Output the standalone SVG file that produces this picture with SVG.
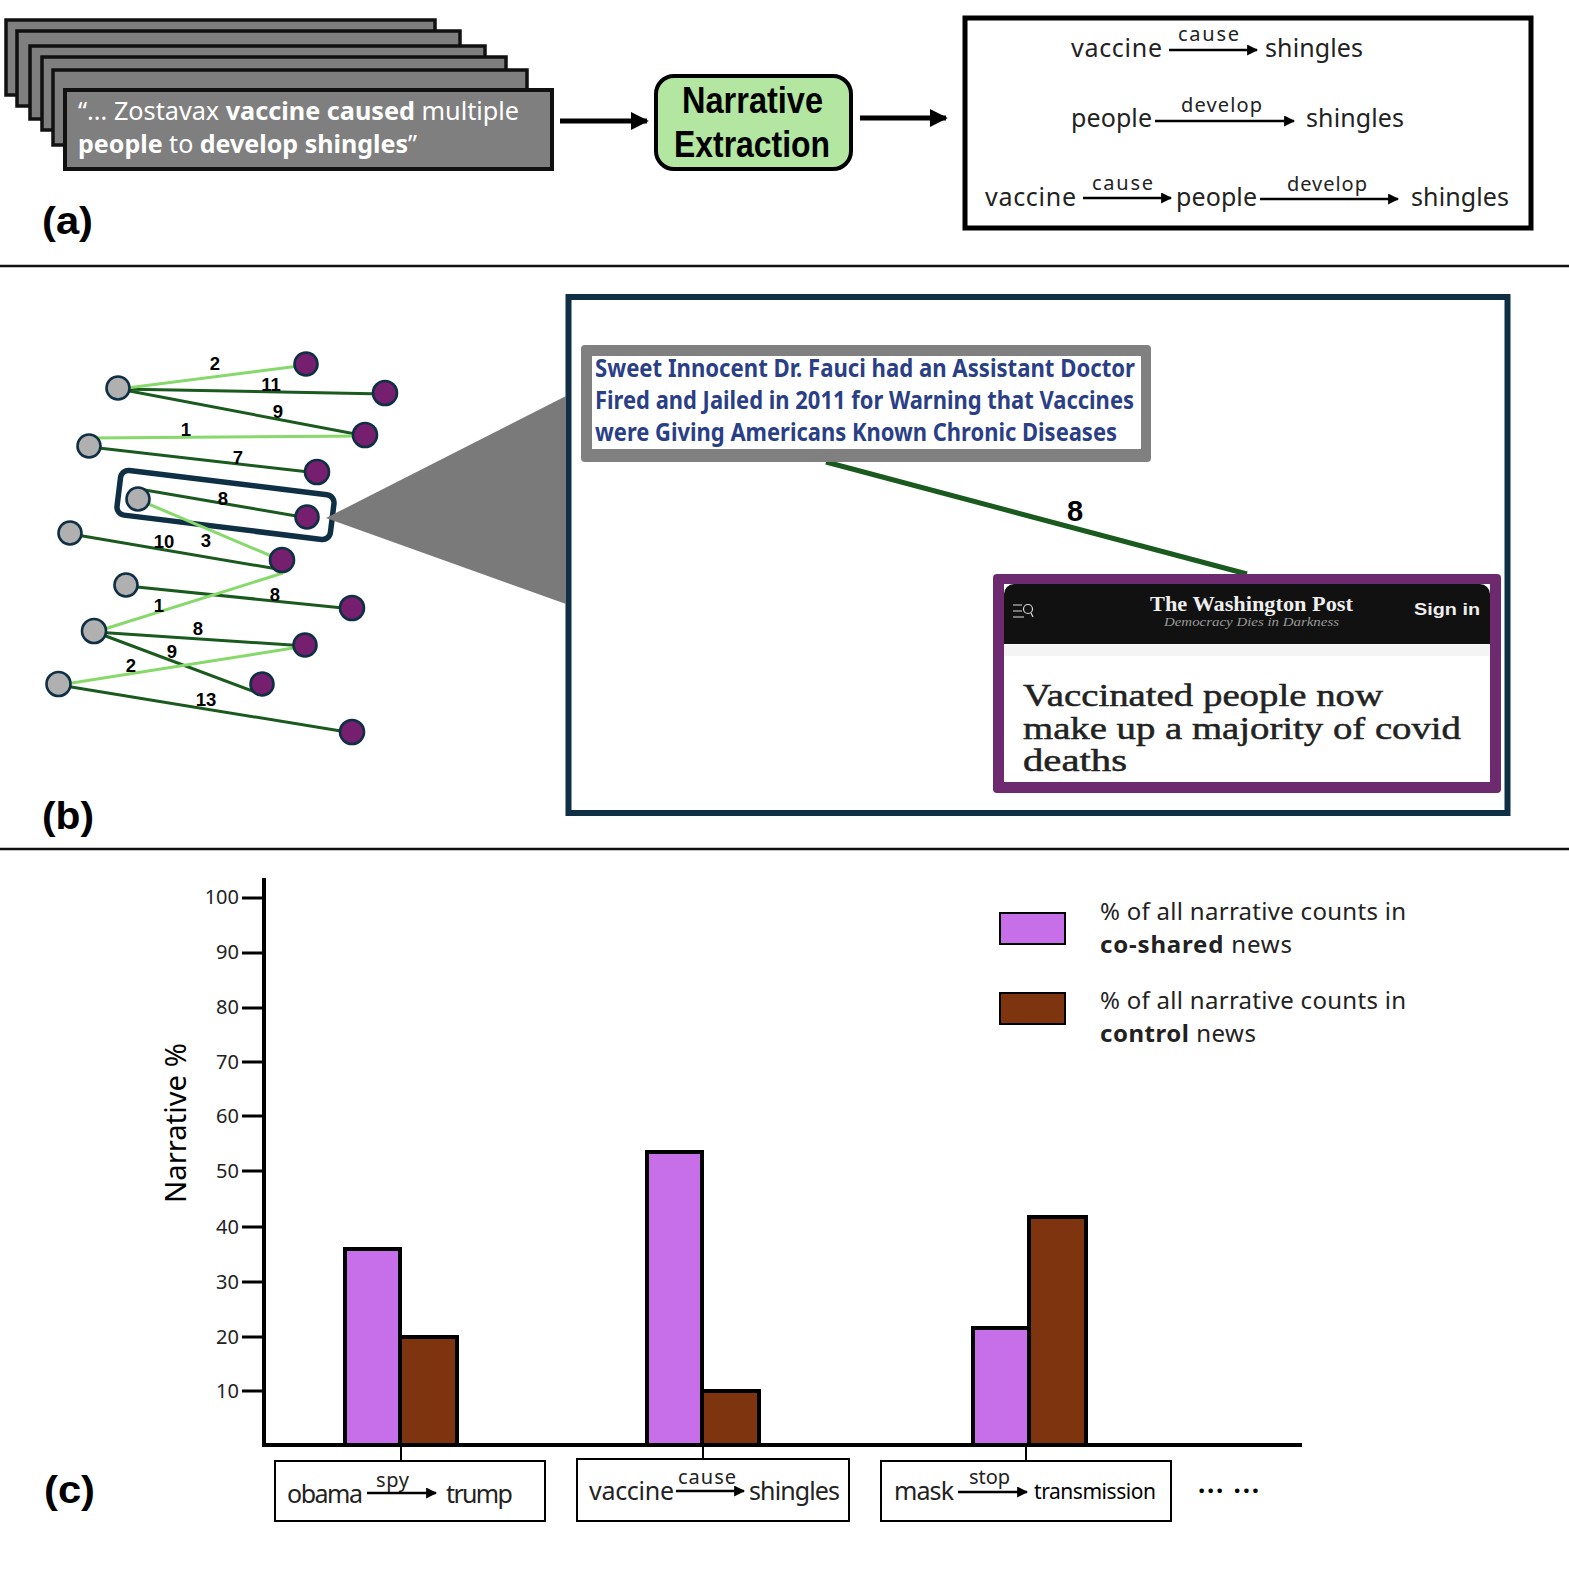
<svg xmlns="http://www.w3.org/2000/svg" width="1569" height="1569" viewBox="0 0 1569 1569">
<defs>
<style>
text{font-family:"Noto Sans","Liberation Sans",sans-serif;fill:#000}
.card{fill:#7f7f7f;stroke:#111;stroke-width:3.5}
.quote{font-size:25px;fill:#fff}
.b{font-weight:700}
.term{font-size:25px;fill:#222}
.rel{font-size:20px;fill:#222}
.panel{font-family:"Liberation Sans",Arial,sans-serif;font-size:39px;font-weight:700}
.title{font-family:"Liberation Sans",Arial,sans-serif;font-size:36px;font-weight:700}
.div{stroke:#111;stroke-width:2.5}
.arr{stroke:#000;stroke-width:2.5;fill:none;marker-end:url(#ah)}
.big{stroke:#000;stroke-width:5;fill:none;marker-end:url(#ahb)}
.dk{stroke:#1a5a1e;stroke-width:3;fill:none}
.lt{stroke:#86d96a;stroke-width:3;fill:none}
.g{fill:#b0b0b0;stroke:#0e2f44;stroke-width:2.6}
.p{fill:#751f6e;stroke:#0e2f44;stroke-width:2.6}
.el{font-family:"Liberation Sans",Arial,sans-serif;font-size:18.5px;font-weight:700;text-anchor:middle}
.fauci{font-size:25px;font-weight:700;fill:#2a3f86}
.hl{font-family:"Liberation Serif",serif;font-size:31px;font-weight:400;fill:#222;stroke:#222;stroke-width:.5}
.tick{stroke:#000;stroke-width:3}
.tl{font-size:20px;text-anchor:end;fill:#222}
.bar1{fill:#c76fe8;stroke:#000;stroke-width:4}
.bar2{fill:#7f3410;stroke:#000;stroke-width:4}
.leg{font-size:24px;fill:#222}
.lbox{fill:#fff;stroke:#000;stroke-width:2}
</style>
<marker id="ah" viewBox="0 0 10 10" refX="9" refY="5" markerWidth="4.4" markerHeight="4.4" orient="auto"><path d="M0 0L10 5L0 10z" fill="#000"/></marker>
<marker id="ahb" viewBox="0 0 10 10" refX="9" refY="5" markerWidth="3.6" markerHeight="3.6" orient="auto"><path d="M0 0L10 5L0 10z" fill="#000"/></marker>
</defs>
<rect width="1569" height="1569" fill="#fff"/>
<g transform="translate(1 1)">
<g id="documents">
<rect class="card" x="5" y="19" width="429" height="75"/>
<rect class="card" x="16" y="30" width="443" height="75"/>
<rect class="card" x="29" y="45" width="455" height="73"/>
<rect class="card" x="41" y="56" width="464" height="73"/>
<rect class="card" x="52" y="69" width="474" height="75"/>
<rect class="card" x="64" y="89" width="487" height="79" style="stroke-width:4"/>
<text class="quote" x="77" y="119" textLength="441" lengthAdjust="spacingAndGlyphs">“... Zostavax <tspan class="b">vaccine caused</tspan> multiple</text>
<text class="quote" x="77" y="152" textLength="339" lengthAdjust="spacingAndGlyphs"><tspan class="b">people</tspan> to <tspan class="b">develop shingles</tspan>”</text>
</g>
<g id="extraction">
<rect x="655" y="75" width="195" height="93" rx="18" fill="#b3e6a1" stroke="#000" stroke-width="4"/>
<text class="title" x="681" y="112" textLength="141" lengthAdjust="spacingAndGlyphs">Narrative</text>
<text class="title" x="673" y="156" textLength="156" lengthAdjust="spacingAndGlyphs">Extraction</text>
</g>
<g id="output">
<rect x="964" y="17" width="566" height="210" fill="#fff" stroke="#000" stroke-width="5"/>
<text class="term" x="1070" y="56" textLength="91">vaccine</text>
<text class="rel" x="1177" y="40" textLength="61">cause</text>
<text class="term" x="1264" y="56" textLength="98">shingles</text>
<text class="term" x="1070" y="126" textLength="81">people</text>
<text class="rel" x="1180" y="111" textLength="81">develop</text>
<text class="term" x="1305" y="126" textLength="98">shingles</text>
<text class="term" x="984" y="205" textLength="91">vaccine</text>
<text class="rel" x="1091" y="189" textLength="61">cause</text>
<text class="term" x="1175" y="205" textLength="81">people</text>
<text class="rel" x="1286" y="190" textLength="80">develop</text>
<text class="term" x="1410" y="205" textLength="98">shingles</text>
</g>
<text class="panel" x="41" y="233" textLength="51" lengthAdjust="spacingAndGlyphs">(a)</text>
<line class="div" x1="-1" y1="265" x2="1569" y2="265"/>

<g id="selection"><rect x="117" y="481.500" width="215" height="45" rx="8" transform="rotate(7 225 504)" fill="none" stroke="#0e2f44" stroke-width="5.500"/></g>
<g id="zoom-panel">
<rect x="567.500" y="296" width="939" height="516" fill="#fff" stroke="#0e2f44" stroke-width="6"/>
<polygon points="325,517 565,395 565,603" fill="#7a7a7a"/>
</g>
<g id="connectors">
<line class="big" x1="559" y1="120" x2="646" y2="120"/>
<line class="big" x1="859" y1="117" x2="945" y2="117"/>
<line class="arr" x1="1168" y1="49" x2="1256" y2="49"/>
<line class="arr" x1="1154" y1="120" x2="1293" y2="120"/>
<line class="arr" x1="1082" y1="197" x2="1170" y2="197"/>
<line class="arr" x1="1259" y1="198" x2="1397" y2="198"/>
<line class="dk" x1="118" y1="388" x2="385" y2="393"/>
<line class="dk" x1="118" y1="388" x2="365" y2="435"/>
<line class="dk" x1="89" y1="446" x2="317" y2="472"/>
<line class="dk" x1="138" y1="488" x2="307" y2="517"/>
<line class="dk" x1="70" y1="533" x2="282" y2="569"/>
<line class="dk" x1="126" y1="585" x2="352" y2="608"/>
<line class="dk" x1="94" y1="631" x2="305" y2="645"/>
<line class="dk" x1="94" y1="631" x2="262" y2="694"/>
<line class="dk" x1="58" y1="684" x2="352" y2="732"/>
<line class="lt" x1="118" y1="388" x2="306" y2="364"/>
<line class="lt" x1="89" y1="437" x2="365" y2="435"/>
<line class="lt" x1="138" y1="499" x2="282" y2="560"/>
<line class="lt" x1="94" y1="631" x2="282" y2="572"/>
<line class="lt" x1="58" y1="684" x2="305" y2="645"/>
<line x1="825" y1="461" x2="1246" y2="573" stroke="#1a5a1e" stroke-width="5"/>
<line class="tick" x1="400" y1="1445" x2="400" y2="1463" style="stroke-width:2"/>
<line class="tick" x1="702" y1="1445" x2="702" y2="1461" style="stroke-width:2"/>
<line class="tick" x1="1025" y1="1445" x2="1025" y2="1463" style="stroke-width:2"/>
</g>
<g id="n1"><circle class="g" cx="117" cy="387" r="11.500"/></g>
<g id="n2"><circle class="g" cx="88" cy="445" r="11.500"/></g>
<g id="n3"><circle class="g" cx="137" cy="498" r="11.500"/></g>
<g id="n4"><circle class="g" cx="69" cy="532" r="11.500"/></g>
<g id="n5"><circle class="g" cx="125" cy="584" r="11.500"/></g>
<g id="n6"><circle class="g" cx="93" cy="630" r="12"/></g>
<g id="n7"><circle class="g" cx="57.500" cy="683" r="12"/></g>
<g id="m1"><circle class="p" cx="305" cy="363" r="11.500"/></g>
<g id="m2"><circle class="p" cx="384" cy="392" r="12"/></g>
<g id="m3"><circle class="p" cx="364" cy="434" r="12"/></g>
<g id="m4"><circle class="p" cx="316" cy="471" r="12"/></g>
<g id="m5"><circle class="p" cx="306" cy="516" r="11.500"/></g>
<g id="m6"><circle class="p" cx="281" cy="559" r="12"/></g>
<g id="m7"><circle class="p" cx="351" cy="607" r="12"/></g>
<g id="m8"><circle class="p" cx="304" cy="644" r="11.500"/></g>
<g id="m9"><circle class="p" cx="261" cy="683" r="11.500"/></g>
<g id="m10"><circle class="p" cx="351" cy="731" r="12"/></g>
<g id="edge-labels">
<text class="el" x="214" y="369">2</text><text class="el" x="270" y="390">11</text><text class="el" x="277" y="417">9</text>
<text class="el" x="185" y="435">1</text><text class="el" x="237" y="463">7</text><text class="el" x="222" y="504">8</text>
<text class="el" x="205" y="546">3</text><text class="el" x="163" y="547">10</text><text class="el" x="274" y="600">8</text>
<text class="el" x="158" y="611">1</text><text class="el" x="197" y="634">8</text><text class="el" x="171" y="657">9</text>
<text class="el" x="130" y="671">2</text><text class="el" x="205" y="705">13</text>
</g>
<g id="article-left">
<rect x="580" y="344" width="570" height="117" rx="4" fill="#808080"/>
<rect x="591" y="355" width="549" height="93" fill="#fff"/>
<text class="fauci" x="594" y="376" textLength="540" lengthAdjust="spacingAndGlyphs">Sweet Innocent Dr. Fauci had an Assistant Doctor</text>
<text class="fauci" x="594" y="408" textLength="539" lengthAdjust="spacingAndGlyphs">Fired and Jailed in 2011 for Warning that Vaccines</text>
<text class="fauci" x="594" y="440" textLength="522" lengthAdjust="spacingAndGlyphs">were Giving Americans Known Chronic Diseases</text>
</g>
<text x="1074" y="520" font-size="29" class="b" text-anchor="middle" style="font-family:'Liberation Sans',sans-serif">8</text>
<g id="article-right">
<rect x="992" y="573" width="508" height="219" rx="4" fill="#6e2a6e"/>
<rect x="1003" y="583" width="486" height="198" fill="#fff"/>
<path d="M1003 643V593a10 10 0 0 1 10-10H1479a10 10 0 0 1 10 10V643z" fill="#111"/>
<rect x="1003" y="644" width="486" height="11" fill="#f4f4f4"/>
<path d="M1012 604h9M1012 610h9M1012 616h11" stroke="#ddd" stroke-width="1.200" fill="none"/>
<circle cx="1027" cy="608" r="4.500" fill="none" stroke="#ddd" stroke-width="1.200"/>
<path d="M1030 612l2 4" stroke="#ddd" stroke-width="1.200"/>
<text x="1149" y="610" textLength="203" lengthAdjust="spacingAndGlyphs" style="font-family:'Liberation Serif',serif;font-size:22px;font-weight:700;fill:#eee">The Washington Post</text>
<text x="1163" y="625" textLength="175" lengthAdjust="spacingAndGlyphs" style="font-family:'Liberation Serif',serif;font-size:12px;font-style:italic;fill:#999">Democracy Dies in Darkness</text>
<text x="1413" y="614" textLength="66" lengthAdjust="spacingAndGlyphs" style="font-family:'Liberation Sans',sans-serif;font-size:17px;font-weight:700;fill:#eee">Sign in</text>
<text class="hl" x="1022" y="705" textLength="360" lengthAdjust="spacingAndGlyphs">Vaccinated people now</text>
<text class="hl" x="1022" y="738" textLength="438" lengthAdjust="spacingAndGlyphs">make up a majority of covid</text>
<text class="hl" x="1022" y="770" textLength="104" lengthAdjust="spacingAndGlyphs">deaths</text>
</g>
<text class="panel" x="41" y="828" textLength="52" lengthAdjust="spacingAndGlyphs">(b)</text>
<line class="div" x1="-1" y1="848" x2="1569" y2="848"/>

<g id="chart">
<g id="bars">
<rect class="bar1" x="344" y="1248" width="55" height="196"/><rect class="bar2" x="399" y="1336" width="57" height="108"/>
<rect class="bar1" x="646" y="1151" width="55" height="293"/><rect class="bar2" x="701" y="1390" width="57" height="54"/>
<rect class="bar1" x="972" y="1327" width="56" height="117"/><rect class="bar2" x="1028" y="1216" width="57" height="228"/>
</g>
<path d="M263 877V1444H1301" fill="none" stroke="#000" stroke-width="4"/>
<path class="tick" d="M241 897H263M241 952H263M241 1007H263M241 1061H263M241 1115H263M241 1170H263M241 1226H263M241 1281H263M241 1336H263M241 1390H263"/>
<text class="tl" x="238" y="903">100</text><text class="tl" x="238" y="958">90</text><text class="tl" x="238" y="1013">80</text>
<text class="tl" x="238" y="1068">70</text><text class="tl" x="238" y="1122">60</text><text class="tl" x="238" y="1177">50</text>
<text class="tl" x="238" y="1233">40</text><text class="tl" x="238" y="1288">30</text><text class="tl" x="238" y="1343">20</text><text class="tl" x="238" y="1397">10</text>
<text transform="translate(185 1122) rotate(-90)" text-anchor="middle" font-size="29" fill="#222" textLength="160" lengthAdjust="spacingAndGlyphs">Narrative %</text>
</g>
<g id="legend">
<rect x="999" y="912" width="65" height="31" fill="#c76fe8" stroke="#000" stroke-width="2"/>
<text class="leg" x="1099" y="919" textLength="306">% of all narrative counts in</text>
<text class="leg" x="1099" y="952" textLength="192"><tspan class="b">co-shared</tspan> news</text>
<rect x="999" y="992" width="65" height="31" fill="#7f3410" stroke="#000" stroke-width="2"/>
<text class="leg" x="1099" y="1008" textLength="306">% of all narrative counts in</text>
<text class="leg" x="1099" y="1041" textLength="156"><tspan class="b">control</tspan> news</text>
</g>
<g id="label-1">
<rect class="lbox" x="274" y="1460" width="270" height="60"/>
<text class="term" x="286" y="1502" textLength="76">obama</text>
<text class="rel" x="375" y="1486" textLength="33">spy</text>
<text class="term" x="445" y="1502" textLength="67">trump</text>
<line class="arr" x1="366" y1="1492" x2="435" y2="1492"/>
</g>
<g id="label-2">
<rect class="lbox" x="576" y="1458" width="272" height="62"/>
<text class="term" x="588" y="1499" textLength="85">vaccine</text>
<text class="rel" x="677" y="1483" textLength="58">cause</text>
<text class="term" x="748" y="1499" textLength="91">shingles</text>
<line class="arr" x1="675" y1="1490" x2="743" y2="1490"/>
</g>
<g id="label-3">
<rect class="lbox" x="880" y="1460" width="290" height="60"/>
<text class="term" x="893" y="1499" textLength="60">mask</text>
<text class="rel" x="968" y="1483" textLength="41">stop</text>
<text x="1033" y="1498" font-size="21" fill="#222" textLength="122">transmission</text>
<line class="arr" x1="957" y1="1491" x2="1026" y2="1491"/>
</g>
<text x="1197" y="1492" font-size="26" class="b" textLength="61" fill="#222">... ...</text>
<text class="panel" x="43" y="1502" textLength="51" lengthAdjust="spacingAndGlyphs">(c)</text>
</g>
</svg>
